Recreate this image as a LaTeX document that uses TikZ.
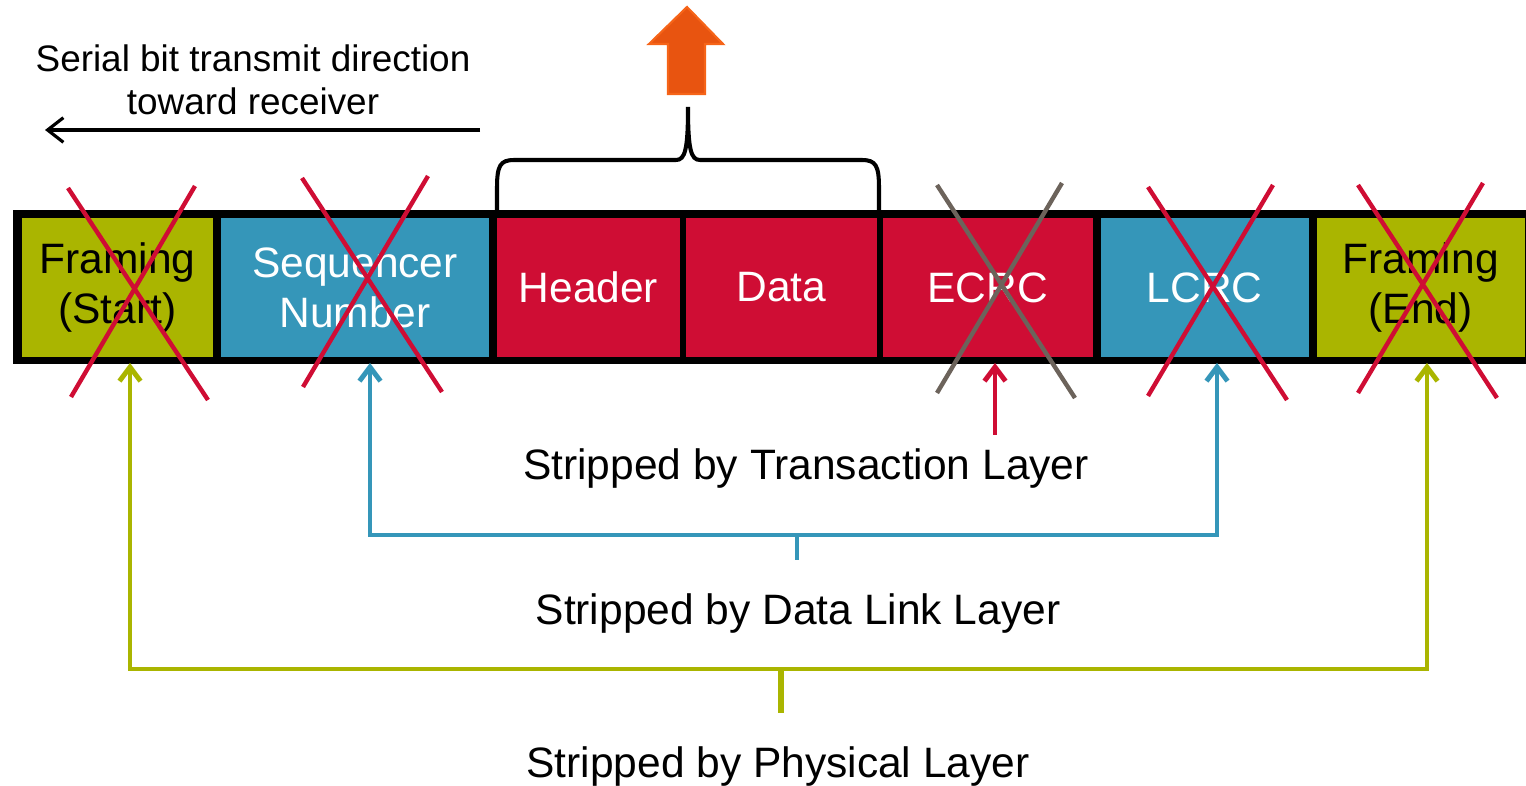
\documentclass[tikz,border=0pt]{standalone}
\usepackage{fontspec}
\setmainfont{Liberation Sans}
\usepackage{xcolor}
\usetikzlibrary{arrows.meta,positioning,calc}

\definecolor{framegreen}{RGB}{170,181,0}
\definecolor{linkblue}{RGB}{53,150,185}
\definecolor{tlpred}{RGB}{207,13,52}
\definecolor{crossgrey}{RGB}{108,99,91}
\definecolor{uporange}{RGB}{232,84,16}
\definecolor{uporangeedge}{RGB}{246,100,24}

\tikzset{
  cell/.style={inner sep=0pt, outer sep=0pt, minimum height=2.78cm, align=center, text=white,
    font=\fontsize{24.2}{28.6}\selectfont},
  strike/.style={line width=2.5pt, tlpred},
  layerarrow/.style={line width=2.8pt, shorten >=0.12cm,
    -{Straight Barb[length=8pt,width=12pt]}},
  layerlabel/.style={font=\fontsize{24.2}{29.6}\selectfont}
}

\begin{document}
\begin{tikzpicture}[x=0.02cm, y=-0.02cm, node distance=0.16cm]
	    \useasboundingbox (0,0) rectangle (1526,786);
	    % packet bar
	    \fill[black] (13,210) rectangle (1526,364);
	    \node[cell, fill=framegreen, text=black, minimum width=3.82cm] (fstart) at (117.5,287.5) {Framing\\(Start)};
	    \node[cell, fill=linkblue, minimum width=5.36cm, right=of fstart] (seqnum) {Sequencer\\Number};
	    \node[cell, fill=tlpred, minimum width=3.66cm, right=of seqnum] (header) {Header};
	    \node[cell, fill=tlpred, minimum width=3.82cm, right=0.12cm of header] (data) {Data};
	    \node[cell, fill=tlpred, minimum width=4.2cm, right=0.12cm of data] (ecrc) {ECRC};
	    \node[cell, fill=linkblue, minimum width=4.16cm, right=of ecrc] (lcrc) {LCRC};
	    \node[cell, fill=framegreen, text=black, minimum width=4.16cm, right=of lcrc] (fend) {Framing\\(End)};
	    % crossed out fields
	    \draw[strike] (68,188) -- (208,400) (195,186) -- (71,397);
	    \draw[strike] (302,178) -- (442,392) (428,176) -- (303,387);
	    \draw[strike, crossgrey] (937,185) -- (1075,398) (1062,183) -- (937,393);
	    \draw[strike] (1148,187) -- (1287,400) (1273,185) -- (1148,396);
	    \draw[strike] (1358,185) -- (1497,398) (1483,183) -- (1358,393);
	    % brace over header and data
	    \draw[line width=2.3pt, line cap=round] (497,212) -- (497,188)
	        .. controls (497,166) and (500,160) .. (514,160) -- (676,160)
	        .. controls (685,160) and (688,150) .. (688,107)
	        .. controls (688,150) and (691,160) .. (700,160) -- (862,160)
	        .. controls (876,160) and (879,166) .. (879,188) -- (879,212);
	    \draw[fill=uporange, draw=uporangeedge, line width=1.2pt] (668,94) -- (668,44) -- (649,44)
	        -- (687,7) -- (723,44) -- (705,44) -- (705,94) -- cycle;
	    % transmit direction
	    \node[font=\fontsize{21}{24.5}\selectfont, align=center] (dirlabel) at (253,80) {Serial bit transmit direction\\toward receiver};
	    \coordinate (dirstart) at (480,130);
	    \coordinate (dirend) at (45,130);
	    \draw[line width=1.8pt, -{Straight Barb[length=9pt,width=14pt]}] (dirstart) -- (dirend);
	    % transaction layer
	    \node[layerlabel] (tlabel) at (806,469) {Stripped by Transaction Layer};
	    \coordinate (tfoot) at (995,435);
	    \draw[layerarrow, tlpred] (tfoot) -- (tfoot |- ecrc.south);
	    % data link layer
	    \node[layerlabel] (dlabel) at (798,614) {Stripped by Data Link Layer};
	    \coordinate (seqfoot) at (370,535);
	    \coordinate (lcrcfoot) at (1217,535);
	    \coordinate (dlmid) at (797,535);
	    \coordinate (dlstem) at (797,560);
	    \draw[layerarrow, linkblue, shorten <=0.12cm, {Straight Barb[length=8pt,width=12pt]}-{Straight Barb[length=8pt,width=12pt]}]
	        (seqfoot |- seqnum.south) -- (seqfoot) -- (lcrcfoot) -- (lcrcfoot |- lcrc.south);
	    \draw[linkblue, line width=2.8pt] (dlmid) -- (dlstem);
	    % physical layer
	    \node[layerlabel] (plabel) at (778,767) {Stripped by Physical Layer};
	    \coordinate (fsfoot) at (130,669);
	    \coordinate (fefoot) at (1427,669);
	    \coordinate (phymid) at (781,669);
	    \coordinate (phystem) at (781,713);
	    \draw[layerarrow, framegreen, shorten <=0.12cm, {Straight Barb[length=8pt,width=12pt]}-{Straight Barb[length=8pt,width=12pt]}]
	        (fsfoot |- fstart.south) -- (fsfoot) -- (fefoot) -- (fefoot |- fend.south);
	    \draw[framegreen, line width=3pt] (phymid) -- (phystem);
	\end{tikzpicture}
\end{document}
